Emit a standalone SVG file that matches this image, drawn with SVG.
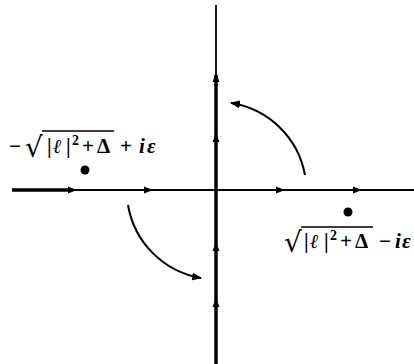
<svg xmlns="http://www.w3.org/2000/svg" width="414" height="364" viewBox="0 0 414 364">
<style>
.ax{stroke:#000;fill:none}
.t{font-family:"Liberation Serif","DejaVu Serif",serif;font-size:21px;font-weight:bold;fill:#000}
.i{font-style:italic}
.l{font-family:"DejaVu Serif",serif;font-style:italic;font-size:20px}
.r{font-family:"DejaVu Serif",serif;font-size:28px;font-weight:normal}
.s{font-size:14px}
.arc{stroke:#000;stroke-width:2;fill:none}
</style>
<defs>
<marker id="ah" markerWidth="10" markerHeight="8" refX="9" refY="4" orient="auto" markerUnits="userSpaceOnUse">
<path d="M0,0 L10,4 L0,8 Z" fill="#000"/>
</marker>
<path id="tr" d="M-4,-3.5 L5,0 L-4,3.5 Z" fill="#000"/>
</defs>
<g id="connectors">
<line class="ax" x1="12" y1="190" x2="72" y2="190" stroke-width="3.5"/>
<line class="ax" x1="72" y1="190" x2="414" y2="190" stroke-width="1.8"/>
<line class="ax" x1="216" y1="5" x2="216" y2="75" stroke-width="1.8"/>
<line class="ax" x1="216" y1="75" x2="216" y2="364" stroke-width="3.5"/>
<use href="#tr" transform="translate(72,190)"/>
<use href="#tr" transform="translate(148,190)"/>
<use href="#tr" transform="translate(280,190)"/>
<use href="#tr" transform="translate(357,190)"/>
<use href="#tr" transform="translate(216,78) rotate(-90)"/>
<use href="#tr" transform="translate(216,138) rotate(-90)"/>
<use href="#tr" transform="translate(216,247) rotate(-90)"/>
<use href="#tr" transform="translate(216,303) rotate(-90)"/>
<path class="arc" d="M128,205 A89,89 0 0 0 201,278" marker-end="url(#ah)"/>
<path class="arc" d="M305,175 A89,89 0 0 0 231,103" marker-end="url(#ah)"/>
</g>
<g id="pole-left">
<circle cx="85" cy="170" r="4.5" fill="#000"/>
<text class="t" y="153"><tspan x="9">−</tspan><tspan class="r" x="25" y="157">√</tspan><tspan x="47" y="153">|</tspan><tspan class="l" x="53">ℓ</tspan><tspan x="66">|</tspan><tspan class="s" x="72" y="145">2</tspan><tspan x="82" y="153">+</tspan><tspan x="97">Δ</tspan><tspan x="120">+</tspan><tspan class="i" x="139">i</tspan><tspan class="i" x="147">ε</tspan></text>
<line x1="42" y1="131" x2="114" y2="131" stroke="#000" stroke-width="1.5"/>
</g>
<g id="pole-right">
<circle cx="348" cy="212" r="4.5" fill="#000"/>
<text class="t" y="248"><tspan class="r" x="284" y="252">√</tspan><tspan x="304" y="248">|</tspan><tspan class="l" x="310">ℓ</tspan><tspan x="324">|</tspan><tspan class="s" x="330" y="240">2</tspan><tspan x="340" y="248">+</tspan><tspan x="355">Δ</tspan><tspan x="379">−</tspan><tspan class="i" x="395">i</tspan><tspan class="i" x="402">ε</tspan></text>
<line x1="301" y1="227" x2="373" y2="227" stroke="#000" stroke-width="1.5"/>
</g>
</svg>
